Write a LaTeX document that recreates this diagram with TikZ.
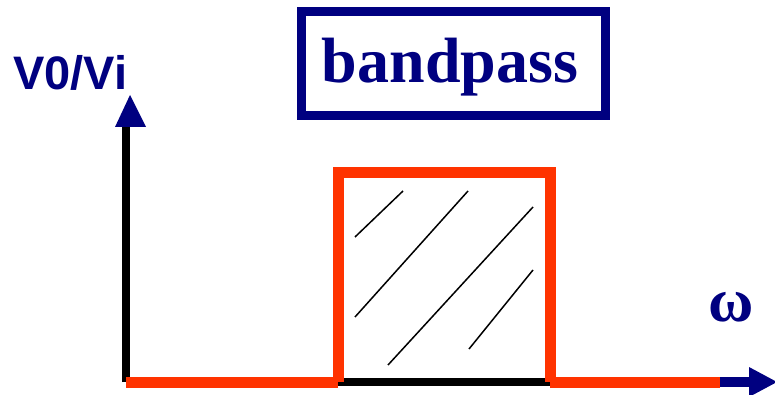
\documentclass[tikz,border=0pt]{standalone}
\usepackage{fontspec}
\setmainfont{Liberation Serif}
\newfontfamily\labelsans{Liberation Sans}
\definecolor{navy}{RGB}{0,0,128}
\definecolor{bandred}{RGB}{255,51,0}
\begin{document}
\begin{tikzpicture}[x=1pt,y=-1pt,
  axisline/.style={line width=8pt,black},
  curve/.style={line width=11pt,bandred,line join=miter},
  hatch/.style={line width=1.5pt,black},
  headfill/.style={fill=navy,draw=none}]
\useasboundingbox (0,0) rectangle (775,395);
% coordinates
\coordinate (O) at (126,382);
\coordinate (ytop) at (126,127);
\coordinate (xend) at (749,382);
\coordinate (bl) at (338,382);
\coordinate (tl) at (338,173);
\coordinate (tr) at (550,173);
\coordinate (br) at (550,382);
\coordinate (rend) at (720,382);
% axes
\draw[axisline,line cap=butt] (O) -- (ytop);
\draw[axisline] (O) -- (rend);
\fill[headfill] (115,127) -- (130,95) -- (146,127) -- cycle;
\draw[line width=10pt,navy] (rend) -- (xend);
\fill[headfill] (749,367) -- (777,382) -- (749,397) -- cycle;
% band response
\draw[curve] (O) -- (bl);
\draw[curve] (bl) -- (tl) -- (tr) -- (br);
\draw[curve] (br) -- (rend);
% hatching
\draw[hatch] (355,237) -- (403,191);
\draw[hatch] (355,317) -- (468,191);
\draw[hatch] (388,365) -- (533,207);
\draw[hatch] (469,349) -- (533,270);
% labels
\node[draw=navy,line width=9pt,minimum width=304pt,minimum height=104pt,inner sep=0pt] (box) at (453.5,63.5) {};
\node[anchor=base,inner sep=0pt,text=navy,font=\fontsize{64}{64}\selectfont\bfseries] (bp) at (450,83) {bandpass};
\node[anchor=base,inner sep=0pt,text=navy,font=\labelsans\fontsize{47}{47}\selectfont\bfseries] (ylab) at (70.5,90) {V0/Vi};
\node[anchor=base,inner sep=0pt,text=navy,font=\fontsize{62}{62}\selectfont\bfseries] (xlab) at (731,321) {ω};
\end{tikzpicture}
\end{document}
